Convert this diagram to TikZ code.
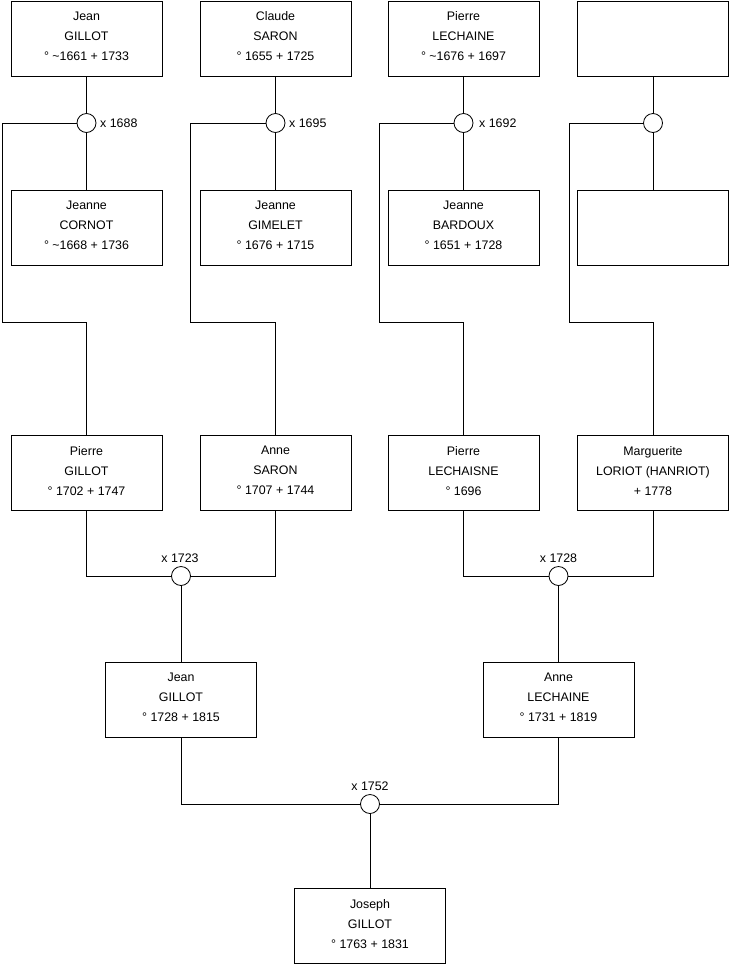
\documentclass[tikz,border=0pt]{standalone}
\usepackage{fontspec}
\setmainfont{Liberation Sans}
\newcommand\lowpad{\rule[-4pt]{0pt}{4pt}}
\begin{document}
\begin{tikzpicture}[x=1pt,y=-1pt,
  person/.style={draw=black,line width=0.8pt,minimum width=151pt,minimum height=75pt,inner sep=0pt,align=center,font=\fontsize{12.4}{20}\selectfont},
  wed/.style={draw=black,fill=white,line width=0.8pt,circle,minimum size=19pt,inner sep=0pt},
  lab/.style={font=\fontsize{12.4}{14}\selectfont,inner sep=0pt},
  link/.style={draw=black,line width=0.8pt}]
\useasboundingbox (0,0) rectangle (740,975);
% row 1
\node[person] (p1) at (86.5,38.5) {Jean\\GILLOT\\° \textasciitilde1661 + 1733\lowpad};
\node[person] (p2) at (275.5,38.5) {Claude\\SARON\\° 1655 + 1725\lowpad};
\node[person] (p3) at (463.5,38.5) {Pierre\\LECHAINE\\° \textasciitilde1676 + 1697\lowpad};
\node[person] (p4) at (653,38.5) {};
% row 2
\node[person] (s1) at (86.5,227.5) {Jeanne\\CORNOT\\° \textasciitilde1668 + 1736\lowpad};
\node[person] (s2) at (275.5,227.5) {Jeanne\\GIMELET\\° 1676 + 1715\lowpad};
\node[person] (s3) at (463.5,227.5) {Jeanne\\BARDOUX\\° 1651 + 1728\lowpad};
\node[person] (s4) at (653,227.5) {};
% row 3
\node[person] (c1) at (86.5,472.5) {Pierre\\GILLOT\\° 1702 + 1747\lowpad};
\node[person] (c2) at (275.5,472.5) {Anne\\SARON\\° 1707 + 1744\lowpad};
\node[person] (c3) at (463.5,472.5) {Pierre\\LECHAISNE\\° 1696\lowpad};
\node[person] (c4) at (653,472.5) {Marguerite\\LORIOT (HANRIOT)\\+ 1778\lowpad};
% row 4
\node[person] (g1) at (181,699.5) {Jean\\GILLOT\\° 1728 + 1815\lowpad};
\node[person] (g2) at (558.5,699.5) {Anne\\LECHAINE\\° 1731 + 1819\lowpad};
% row 5
\node[person] (j) at (370,925.5) {Joseph\\GILLOT\\° 1763 + 1831\lowpad};
% first marriages
\coordinate (k1) at (2,322);
\coordinate (k2) at (190,322);
\coordinate (k3) at (379,322);
\coordinate (k4) at (569,322);
\draw[link] (p1.south) -- (s1.north);
\draw[link] (p2.south) -- (s2.north);
\draw[link] (p3.south) -- (s3.north);
\draw[link] (p4.south) -- (s4.north);
\node[wed] (m1) at (86.5,123) {};
\node[wed] (m2) at (275.5,123) {};
\node[wed] (m3) at (463.5,123) {};
\node[wed] (m4) at (653,123) {};
\node[lab,anchor=west] (l1) at (100,123) {x 1688};
\node[lab,anchor=west] (l2) at (289,123) {x 1695};
\node[lab,anchor=west] (l3) at (479,123) {x 1692};
\draw[link] (m1.west) -| (k1) -| (c1.north);
\draw[link] (m2.west) -| (k2) -| (c2.north);
\draw[link] (m3.west) -| (k3) -| (c3.north);
\draw[link] (m4.west) -| (k4) -| (c4.north);
% second marriages
\node[wed] (n1) at (181,576) {};
\node[wed] (n2) at (558.5,576) {};
\node[lab] (ln1) at (180,558) {x 1723};
\node[lab] (ln2) at (558.5,558) {x 1728};
\draw[link] (c1.south) |- (n1.west);
\draw[link] (c2.south) |- (n1.east);
\draw[link] (n1.south) -- (g1.north);
\draw[link] (c3.south) |- (n2.west);
\draw[link] (c4.south) |- (n2.east);
\draw[link] (n2.south) -- (g2.north);
% third marriage
\node[wed] (n3) at (370,804) {};
\node[lab] (ln3) at (370,786) {x 1752};
\draw[link] (g1.south) |- (n3.west);
\draw[link] (g2.south) |- (n3.east);
\draw[link] (n3.south) -- (j.north);
\end{tikzpicture}
\end{document}
